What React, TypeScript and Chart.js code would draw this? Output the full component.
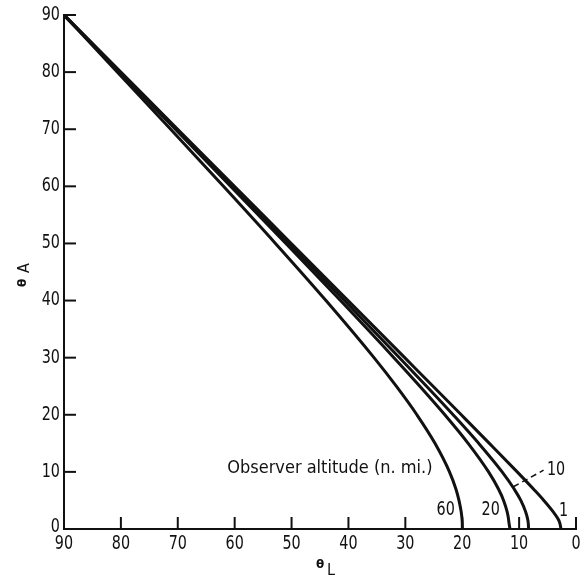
import React, { useEffect, useRef } from 'react';
import { Chart, registerables } from 'chart.js';

Chart.register(...registerables);

// θA values (deg) at which each curve is sampled, top to bottom
const thetaA = [90, 80, 70, 60, 50, 40, 30, 25, 20, 15, 10, 7, 5, 3, 2, 1, 0];
// θL values (deg) read for each observer altitude (n. mi.)
const thetaL_alt1 = [90, 80.01, 70.02, 60.04, 50.05, 40.07, 30.11, 25.13, 20.17, 15.23, 10.34, 7.48, 5.65, 4.0, 3.31, 2.83, 2.64];
const thetaL_alt10 = [90, 80.11, 70.22, 60.35, 50.5, 40.71, 31.03, 26.27, 21.6, 17.11, 12.99, 10.87, 9.7, 8.85, 8.56, 8.39, 8.33];
const thetaL_alt20 = [90, 80.21, 70.43, 60.69, 51.0, 41.4, 32.01, 27.45, 23.06, 18.96, 15.37, 13.63, 12.73, 12.1, 11.9, 11.77, 11.6];
const thetaL_alt60 = [90, 80.61, 71.25, 61.97, 52.83, 43.95, 35.51, 31.59, 27.97, 24.79, 22.24, 21.11, 20.57, 20.18, 20.06, 19.99, 19.97];

const altitudeLabels = ['1', '10', '20', '60'];
const axisMin = 0;
const axisMax = 90;
const tickStep = 10;
const annotationText = 'Observer altitude (n. mi.)';

const INK = '#111';
const NUM_FONT = '"DejaVu Sans Condensed", "Liberation Sans Narrow", sans-serif';
const TEXT_FONT = '"DejaVu Sans Condensed", "Liberation Sans Narrow", sans-serif';
const SQUEEZE = 0.84;

const toPoints = (ls: number[]) => ls.map((l, i) => ({ x: l, y: thetaA[i] }));

const drawNarrow = (ctx: any, s: string, x: number, y: number, align: string) => {
  ctx.save();
  ctx.translate(x, y);
  ctx.scale(SQUEEZE, 1);
  ctx.textAlign = align;
  ctx.fillText(s, 0, 0);
  ctx.restore();
};

const decorPlugin = {
  id: 'decor',
  afterDraw(chart: any) {
    const { ctx, chartArea } = chart;
    const xs = chart.scales.x;
    const ys = chart.scales.y;
    ctx.save();
    ctx.strokeStyle = INK;
    ctx.fillStyle = INK;
    ctx.lineWidth = 2;
    const tl = 12;
    // inward tick marks
    xs.ticks.forEach((t: any) => {
      const px = xs.getPixelForValue(t.value);
      if (t.value === axisMax) return;
      ctx.beginPath();
      ctx.moveTo(px, chartArea.bottom);
      ctx.lineTo(px, chartArea.bottom - tl);
      ctx.stroke();
    });
    ys.ticks.forEach((t: any) => {
      const py = ys.getPixelForValue(t.value);
      if (t.value === axisMin) return;
      ctx.beginPath();
      ctx.moveTo(chartArea.left, py);
      ctx.lineTo(chartArea.left + tl, py);
      ctx.stroke();
    });

    // tick labels (narrow numerals)
    ctx.font = `19px ${NUM_FONT}`;
    ctx.textBaseline = 'middle';
    xs.ticks.forEach((t: any) => {
      drawNarrow(ctx, String(t.value), xs.getPixelForValue(t.value), chartArea.bottom + 15, 'center');
    });
    ys.ticks.forEach((t: any) => {
      drawNarrow(ctx, String(t.value), chartArea.left - 4, ys.getPixelForValue(t.value) - (t.value === axisMin ? 2 : 0), 'right');
    });

    // curve labels
    ctx.font = `19px ${NUM_FONT}`;
    const lbl = (s: string, l: number, a: number) =>
      drawNarrow(ctx, s, xs.getPixelForValue(l), ys.getPixelForValue(a), 'center');
    lbl(altitudeLabels[3], 22.9, 3.3);
    lbl(altitudeLabels[2], 15.0, 3.3);
    lbl(altitudeLabels[0], 2.2, 3.2);
    lbl(altitudeLabels[1], 3.5, 10.25);

    // leader for "10"
    ctx.beginPath();
    ctx.setLineDash([6, 4]);
    ctx.lineWidth = 1.5;
    ctx.moveTo(xs.getPixelForValue(11.0), ys.getPixelForValue(7.4));
    ctx.lineTo(xs.getPixelForValue(5.7), ys.getPixelForValue(10.3));
    ctx.stroke();
    ctx.setLineDash([]);

    // annotation
    ctx.font = `18px ${TEXT_FONT}`;
    ctx.textAlign = 'left';
    ctx.textBaseline = 'alphabetic';
    ctx.fillText(annotationText, xs.getPixelForValue(61.3), ys.getPixelForValue(9.8));

    // axis titles
    const cx = (chartArea.left + chartArea.right) / 2;
    const cy = (chartArea.top + chartArea.bottom) / 2;
    ctx.textAlign = 'center';
    ctx.textBaseline = 'middle';
    ctx.font = `bold 12px "DejaVu Sans", sans-serif`;
    ctx.fillText('θ', cx, chartArea.bottom + 36);
    ctx.font = `16px ${NUM_FONT}`;
    ctx.fillText('L', cx + 11, chartArea.bottom + 42);

    ctx.save();
    ctx.translate(chartArea.left - 41, cy + 11);
    ctx.rotate(-Math.PI / 2);
    ctx.font = `bold 12px "DejaVu Sans", sans-serif`;
    ctx.fillText('θ', 0, 0);
    ctx.restore();
    ctx.save();
    ctx.translate(chartArea.left - 39, cy - 4);
    ctx.rotate(-Math.PI / 2);
    ctx.font = `16px ${NUM_FONT}`;
    ctx.fillText('A', 0, 0);
    ctx.restore();

    ctx.restore();
  },
};

export default function App() {
  const ref = useRef<HTMLCanvasElement>(null);
  useEffect(() => {
    if (!ref.current) return;
    const series = [thetaL_alt1, thetaL_alt10, thetaL_alt20, thetaL_alt60];
    const chart = new Chart(ref.current, {
      type: 'line',
      data: {
        datasets: series.map((s, i) => ({
          label: altitudeLabels[i],
          data: toPoints(s),
          borderColor: INK,
          borderWidth: 3,
          pointRadius: 0,
          fill: false,
          cubicInterpolationMode: 'monotone' as const,
        })),
      },
      options: {
        responsive: false,
        animation: false,
        devicePixelRatio: 1,
        layout: { padding: { top: 15, right: 9, left: 0, bottom: 0 } },
        plugins: { legend: { display: false }, tooltip: { enabled: false } },
        scales: {
          x: {
            type: 'linear',
            reverse: true,
            min: axisMin,
            max: axisMax,
            ticks: { stepSize: tickStep, display: false },
            grid: { display: false, drawTicks: false },
            border: { display: true, color: INK, width: 2 },
            afterFit: (s: any) => { s.height = 50; },
          },
          y: {
            type: 'linear',
            min: axisMin,
            max: axisMax,
            ticks: { stepSize: tickStep, display: false },
            grid: { display: false, drawTicks: false },
            border: { display: true, color: INK, width: 2 },
            afterFit: (s: any) => { s.width = 64; },
          },
        },
      },
      plugins: [decorPlugin],
    });
    return () => chart.destroy();
  }, []);
  return (
    <div style={{ position: 'fixed', left: 0, top: 0, width: 585, height: 579, background: '#fff' }}>
      <canvas ref={ref} width={585} height={579} />
    </div>
  );
}
